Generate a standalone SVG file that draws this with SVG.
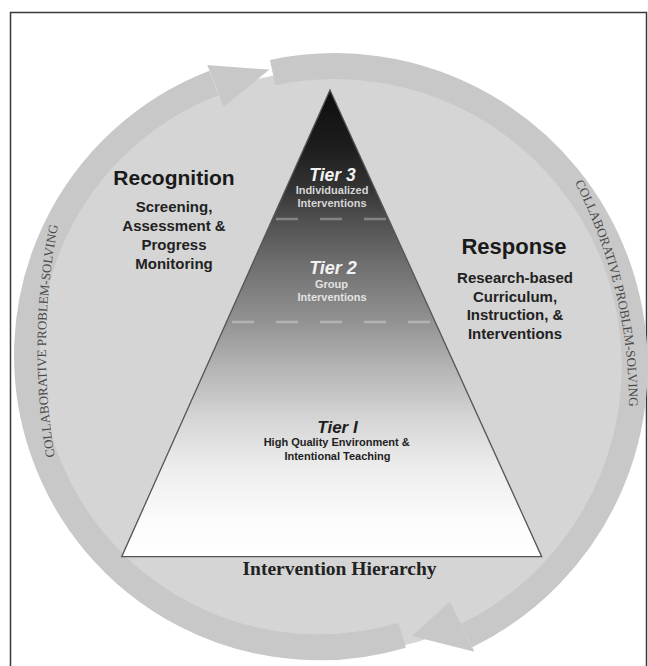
<svg xmlns="http://www.w3.org/2000/svg" width="648" height="666" viewBox="0 0 648 666">
  <defs>
    <linearGradient id="pyramidFill" gradientUnits="userSpaceOnUse" x1="0" y1="90" x2="0" y2="557">
      <stop offset="0" stop-color="#0d0d0d"/>
      <stop offset="0.128" stop-color="#1e1e1e"/>
      <stop offset="0.214" stop-color="#353535"/>
      <stop offset="0.276" stop-color="#4f4f4f"/>
      <stop offset="0.364" stop-color="#6c6c6c"/>
      <stop offset="0.497" stop-color="#939393"/>
      <stop offset="0.6" stop-color="#b6b6b6"/>
      <stop offset="0.707" stop-color="#d6d6d6"/>
      <stop offset="0.814" stop-color="#eeeeee"/>
      <stop offset="0.92" stop-color="#fbfbfb"/>
      <stop offset="1" stop-color="#ffffff"/>
    </linearGradient>
    <!-- baseline arcs for the ring captions (clockwise, wide radius) -->
    <path id="arcLeft" d="M 82.4 565.1 A 654 654 0 0 1 88.6 117.8"/>
    <path id="arcRight" d="M 548.1 137.2 A 484 484 0 0 1 626 459"/>
  </defs>
  <style>
    .band { fill: none; stroke: #c8c8c8; stroke-width: 26; }
    .head { fill: #c8c8c8; }
    .ring-label { font-family: "Liberation Serif", "Times New Roman", serif; font-size: 13px; fill: #4a4a4a; }
    .heading { font-family: "Liberation Sans", Arial, sans-serif; font-weight: bold; fill: #1a1a1a; text-anchor: middle; }
    .sub { font-family: "Liberation Sans", Arial, sans-serif; font-weight: bold; font-size: 15px; fill: #222222; text-anchor: middle; }
    .tier { font-family: "Liberation Sans", Arial, sans-serif; font-weight: bold; font-style: italic; text-anchor: middle; }
    .tier-sub { font-family: "Liberation Sans", Arial, sans-serif; font-weight: bold; font-size: 11px; text-anchor: middle; }
    .divider { stroke: #ffffff; stroke-opacity: 0.3; stroke-width: 2.5; stroke-dasharray: 22 22; }
  </style>

  <rect width="648" height="666" fill="#ffffff"/>
  <!-- outer frame -->
  <rect id="frame" x="10.5" y="12.5" width="636" height="680" fill="none" stroke="#3a3a3a" stroke-width="1.5"/>

  <!-- light disc behind everything -->
  <ellipse id="disc" cx="332" cy="362" rx="298" ry="292" fill="#d5d5d5"/>

  <!-- cycle bands with arrowheads -->
  <g id="connectors">
    <!-- left band: bottom to top-left -->
    <path class="band" d="M 402.2 635.2 A 292 292 0 0 1 214.1 82.8"/>
    <polygon class="head" points="207.3,65.1 269.4,69.6 223.5,107.1"/>
    <!-- right band: top to bottom-right -->
    <path class="band" d="M 272.6 72.6 A 300 300 0 0 1 466.5 635.6"/>
    <polygon class="head" points="449.9,601.5 474.4,651.8 412,636"/>
  </g>

  <g id="ring-labels">
    <text class="ring-label"><textPath href="#arcLeft" startOffset="50%" text-anchor="middle">COLLABORATIVE PROBLEM-SOLVING</textPath></text>
    <text class="ring-label"><textPath href="#arcRight" startOffset="50%" text-anchor="middle">COLLABORATIVE PROBLEM-SOLVING</textPath></text>
  </g>

  <!-- intervention pyramid -->
  <g id="pyramid">
    <polygon points="330,90 121.7,556.7 541.7,556.7" fill="url(#pyramidFill)" stroke="#555555" stroke-width="1.3"/>
    <line class="divider" x1="276" y1="219" x2="386" y2="219"/>
    <line class="divider" x1="232" y1="322" x2="431" y2="322"/>
  </g>

  <g id="tier3">
    <text class="tier" x="332.5" y="181" font-size="17.5" fill="#f2f2f2">Tier 3</text>
    <text class="tier-sub" x="332" y="194" fill="#d6d6d6">Individualized</text>
    <text class="tier-sub" x="332" y="206.5" fill="#d6d6d6">Interventions</text>
  </g>

  <g id="tier2">
    <text class="tier" x="333" y="274" font-size="18" fill="#f2f2f2">Tier 2</text>
    <text class="tier-sub" x="331.5" y="288" fill="#e2e2e2">Group</text>
    <text class="tier-sub" x="332" y="300.5" fill="#e2e2e2">Interventions</text>
  </g>

  <g id="tier1">
    <text class="tier" x="337.5" y="433" font-size="17" fill="#1e1e1e">Tier I</text>
    <text class="tier-sub" x="336.7" y="446" fill="#1e1e1e">High Quality Environment &amp;</text>
    <text class="tier-sub" x="337.5" y="459.5" fill="#1e1e1e">Intentional Teaching</text>
  </g>

  <g id="recognition">
    <text class="heading" x="174" y="185" font-size="21">Recognition</text>
    <text class="sub" x="174" y="211.5">Screening,</text>
    <text class="sub" x="174" y="230.5">Assessment &amp;</text>
    <text class="sub" x="174" y="249.5">Progress</text>
    <text class="sub" x="174" y="268.5">Monitoring</text>
  </g>

  <g id="response">
    <text class="heading" x="514" y="253.5" font-size="22">Response</text>
    <text class="sub" x="515" y="283">Research-based</text>
    <text class="sub" x="515" y="301.5">Curriculum,</text>
    <text class="sub" x="515" y="320">Instruction, &amp;</text>
    <text class="sub" x="515" y="338.5">Interventions</text>
  </g>

  <g id="hierarchy-title">
    <text x="339.5" y="575" font-family="'Liberation Serif', 'Times New Roman', serif" font-weight="bold" font-size="19.5" fill="#222222" text-anchor="middle">Intervention Hierarchy</text>
  </g>
</svg>
